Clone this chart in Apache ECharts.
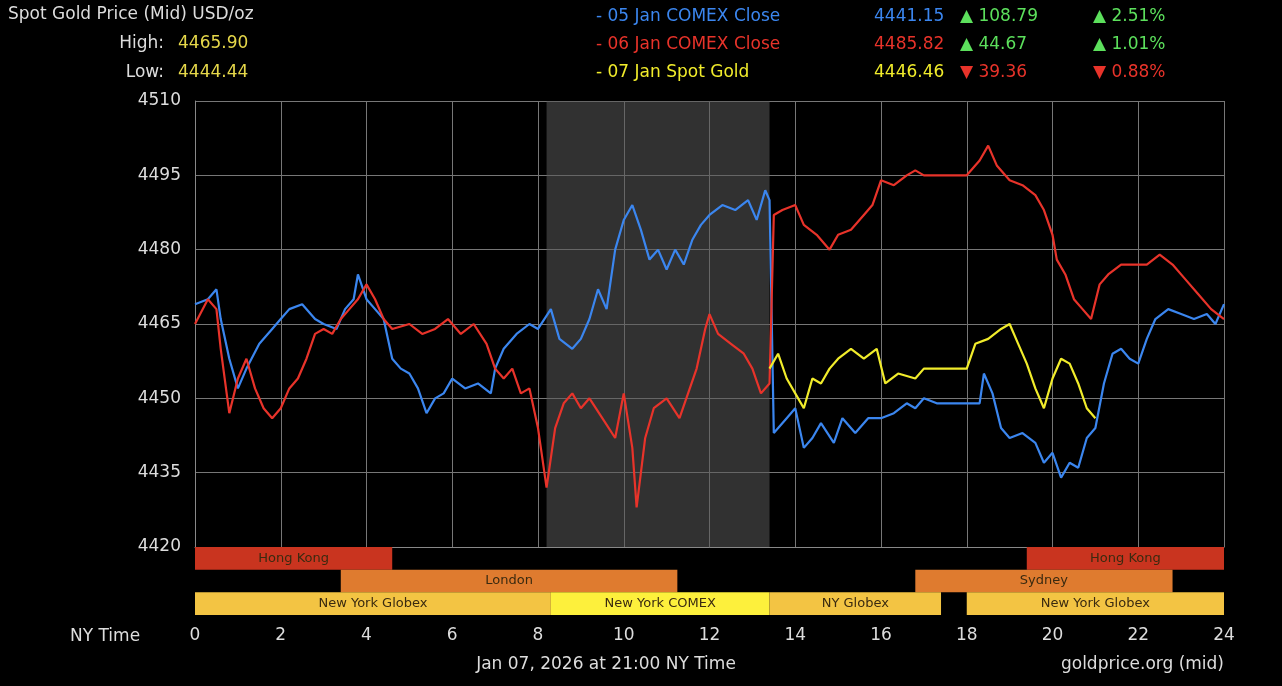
<!DOCTYPE html>
<html>
<head>
<meta charset="utf-8">
<script src="https://cdn.jsdelivr.net/npm/echarts@6/dist/echarts.min.js"></script>
<style>
  html, body { margin: 0; padding: 0; background: #000; }
  #chart { width: 1282px; height: 686px; }
</style>
</head>
<body>
<div id="chart"></div>
<script>
// hours (NY time) and prices
var blueData = [
  [0,4469],[0.3,4470],[0.5,4472],[0.6,4466],[0.8,4458],[1.0,4452],[1.2,4456],[1.5,4461],[1.8,4464],[2.0,4466],
  [2.2,4468],[2.5,4469],[2.8,4466],[3.0,4465],[3.3,4464],[3.5,4468],[3.7,4470],[3.8,4475],[4.0,4470],[4.2,4468],
  [4.4,4466],[4.6,4458],[4.8,4456],[5.0,4455],[5.2,4452],[5.4,4447],[5.6,4450],[5.8,4451],[6.0,4454],[6.3,4452],
  [6.6,4453],[6.9,4451],[7.0,4456],[7.2,4460],[7.5,4463],[7.8,4465],[8.0,4464],[8.3,4468],[8.5,4462],[8.8,4460],
  [9.0,4462],[9.2,4466],[9.4,4472],[9.6,4468],[9.8,4480],[10.0,4486],[10.2,4489],[10.4,4484],[10.6,4478],[10.8,4480],
  [11.0,4476],[11.2,4480],[11.4,4477],[11.6,4482],[11.8,4485],[12.0,4487],[12.3,4489],[12.6,4488],[12.9,4490],[13.1,4486],
  [13.3,4492],[13.4,4490],[13.5,4443],[13.8,4446],[14.0,4448],[14.2,4440],[14.4,4442],[14.6,4445],[14.9,4441],[15.1,4446],
  [15.4,4443],[15.7,4446],[16.0,4446],[16.3,4447],[16.6,4449],[16.8,4448],[17.0,4450],[17.3,4449],[18.3,4449],[18.4,4455],
  [18.6,4451],[18.8,4444],[19.0,4442],[19.3,4443],[19.6,4441],[19.8,4437],[20.0,4439],[20.2,4434],[20.4,4437],[20.6,4436],
  [20.8,4442],[21.0,4444],[21.2,4453],[21.4,4459],[21.6,4460],[21.8,4458],[22.0,4457],[22.2,4462],[22.4,4466],[22.7,4468],
  [23.0,4467],[23.3,4466],[23.6,4467],[23.8,4465],[24,4469]
];
var redData = [
  [0,4465],[0.3,4470],[0.5,4468],[0.6,4460],[0.8,4447],[1.0,4454],[1.2,4458],[1.4,4452],[1.6,4448],[1.8,4446],
  [2.0,4448],[2.2,4452],[2.4,4454],[2.6,4458],[2.8,4463],[3.0,4464],[3.2,4463],[3.4,4466],[3.6,4468],[3.8,4470],
  [4.0,4473],[4.2,4470],[4.4,4466],[4.6,4464],[5.0,4465],[5.3,4463],[5.6,4464],[5.9,4466],[6.2,4463],[6.5,4465],
  [6.8,4461],[7.0,4456],[7.2,4454],[7.4,4456],[7.6,4451],[7.8,4452],[8.0,4444],[8.2,4432],[8.4,4444],[8.6,4449],
  [8.8,4451],[9.0,4448],[9.2,4450],[9.5,4446],[9.8,4442],[10.0,4451],[10.2,4440],[10.3,4428],[10.5,4442],[10.7,4448],
  [11.0,4450],[11.3,4446],[11.5,4451],[11.7,4456],[11.9,4464],[12.0,4467],[12.2,4463],[12.5,4461],[12.8,4459],[13.0,4456],
  [13.2,4451],[13.4,4453],[13.5,4487],[13.7,4488],[14.0,4489],[14.2,4485],[14.5,4483],[14.8,4480],[15.0,4483],[15.3,4484],
  [15.6,4487],[15.8,4489],[16.0,4494],[16.3,4493],[16.6,4495],[16.8,4496],[17.0,4495],[18.0,4495],[18.3,4498],[18.5,4501],
  [18.7,4497],[19.0,4494],[19.3,4493],[19.6,4491],[19.8,4488],[20.0,4483],[20.1,4478],[20.3,4475],[20.5,4470],[20.7,4468],
  [20.9,4466],[21.1,4473],[21.3,4475],[21.6,4477],[21.9,4477],[22.2,4477],[22.5,4479],[22.8,4477],[23.1,4474],[23.4,4471],
  [23.7,4468],[24,4466]
];
var yellowData = [
  [13.4,4456],[13.6,4459],[13.8,4454],[14.0,4451],[14.2,4448],[14.4,4454],[14.6,4453],[14.8,4456],[15.0,4458],[15.3,4460],
  [15.6,4458],[15.9,4460],[16.1,4453],[16.4,4455],[16.8,4454],[17.0,4456],[18.0,4456],[18.2,4461],[18.5,4462],[18.8,4464],
  [19.0,4465],[19.2,4461],[19.4,4457],[19.6,4452],[19.8,4448],[20.0,4454],[20.2,4458],[20.4,4457],[20.6,4453],[20.8,4448],
  [21.0,4446]
];
// market session bands: [row, start, end, name, colour]
var sessions = [
  [0, 0, 4.6, 'Hong Kong', '#c9341f'],
  [0, 19.4, 24, 'Hong Kong', '#c9341f'],
  [1, 3.4, 11.25, 'London', '#df7b2f'],
  [1, 16.8, 22.8, 'Sydney', '#df7b2f'],
  [2, 0, 8.3, 'New York Globex', '#f3c443'],
  [2, 8.3, 13.4, 'New York COMEX', '#fdf03c'],
  [2, 13.4, 17.4, 'NY Globex', '#f3c443'],
  [2, 18, 24, 'New York Globex', '#f3c443']
];
var comexWindow = [8.2, 13.4];

var blue = '#3b86ef', red = '#e8332a', yellow = '#f1ec2b', green = '#5ce05c', txt = '#dddddd';
var font = 'DejaVu Sans';

function t(x, y, s, color, align) {
  return {type: 'text', x: x, y: y,
          style: {text: s, fill: color, font: '17px ' + font, textAlign: align || 'left', textVerticalAlign: 'top'}};
}

var chart = echarts.init(document.getElementById('chart'));
chart.setOption({
  backgroundColor: '#000',
  animation: false,
  textStyle: {fontFamily: font},
  grid: [
    {left: 195, right: 58, top: 101, height: 446},
    {left: 195, right: 58, top: 547, height: 68}
  ],
  xAxis: [
    {gridIndex: 0, type: 'value', min: 0, max: 24, interval: 2,
     axisLabel: {show: false}, axisTick: {show: false},
     axisLine: {lineStyle: {color: '#888'}},
     splitLine: {lineStyle: {color: '#777'}}},
    {gridIndex: 1, type: 'value', min: 0, max: 24, interval: 2,
     axisLabel: {color: txt, fontSize: 17, margin: 12}, axisTick: {show: false},
     axisLine: {show: false}, splitLine: {show: false}}
  ],
  yAxis: [
    {gridIndex: 0, type: 'value', min: 4420, max: 4510, interval: 15,
     axisLabel: {color: txt, fontSize: 17, margin: 14, formatter: function (v) { return String(v); }},
     axisTick: {show: false},
     axisLine: {show: true, lineStyle: {color: '#888'}},
     splitLine: {lineStyle: {color: '#777'}}},
    {gridIndex: 1, type: 'category', data: ['0', '1', '2'], inverse: true,
     axisLabel: {show: false}, axisTick: {show: false}, axisLine: {show: false}}
  ],
  series: [
    {type: 'line', name: '05 Jan', data: blueData, showSymbol: false,
     lineStyle: {color: blue, width: 2.2}, itemStyle: {color: blue}, z: 3,
     markArea: {silent: true, itemStyle: {color: 'rgba(90,90,90,0.55)'},
                data: [[{xAxis: comexWindow[0]}, {xAxis: comexWindow[1]}]]}},
    {type: 'line', name: '06 Jan', data: redData, showSymbol: false,
     lineStyle: {color: red, width: 2.2}, itemStyle: {color: red}, z: 4},
    {type: 'line', name: '07 Jan', data: yellowData, showSymbol: false,
     lineStyle: {color: yellow, width: 2.2}, itemStyle: {color: yellow}, z: 5},
    {type: 'custom', xAxisIndex: 1, yAxisIndex: 1, data: sessions,
     renderItem: function (params, api) {
       var a = api.coord([api.value(1), api.value(0)]);
       var b = api.coord([api.value(2), api.value(0)]);
       var h = api.size([0, 1])[1];
       var d = sessions[params.dataIndex];
       return {type: 'group', children: [
         {type: 'rect', shape: {x: a[0], y: a[1] - h / 2, width: b[0] - a[0], height: h},
          style: {fill: d[4]}},
         {type: 'text', style: {text: d[3], x: (a[0] + b[0]) / 2, y: a[1], fill: '#3a2a10',
          font: '13px ' + font, textAlign: 'center', textVerticalAlign: 'middle'}}
       ]};
     }}
  ],
  graphic: [
    t(8, 6, 'Spot Gold Price (Mid) USD/oz', txt),
    t(164, 35, 'High:', txt, 'right'), t(178, 35, '4465.90', '#e6d84a'),
    t(164, 64, 'Low:', txt, 'right'), t(178, 64, '4444.44', '#e6d84a'),
    t(596, 8, '- 05 Jan COMEX Close', blue), t(874, 8, '4441.15', blue),
    t(960, 8, '▲ 108.79', green), t(1093, 8, '▲ 2.51%', green),
    t(596, 36, '- 06 Jan COMEX Close', red), t(874, 36, '4485.82', red),
    t(960, 36, '▲ 44.67', green), t(1093, 36, '▲ 1.01%', green),
    t(596, 64, '- 07 Jan Spot Gold', yellow), t(874, 64, '4446.46', yellow),
    t(960, 64, '▼ 39.36', red), t(1093, 64, '▼ 0.88%', red),
    t(70, 628, 'NY Time', txt),
    t(606, 656, 'Jan 07, 2026 at 21:00 NY Time', txt, 'center'),
    t(1224, 656, 'goldprice.org (mid)', txt, 'right')
  ]
});
</script>
</body>
</html>
